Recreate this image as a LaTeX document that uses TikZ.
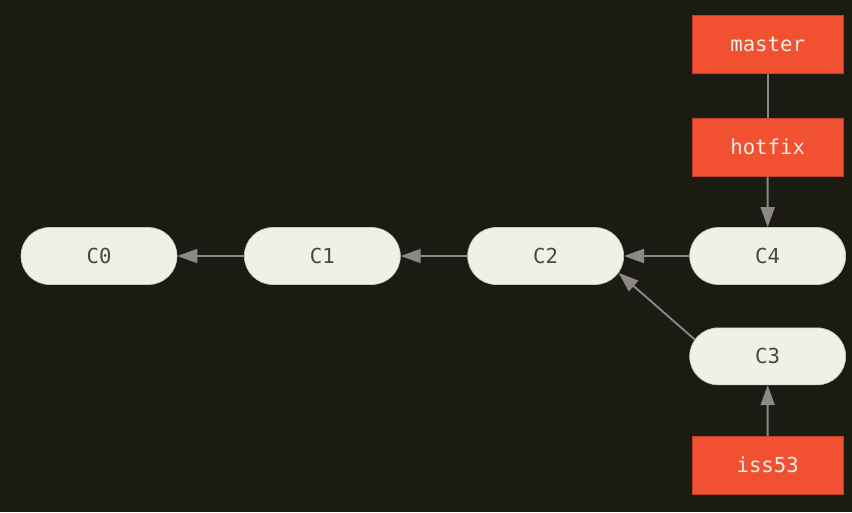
\documentclass[tikz,border=0pt]{standalone}
\usepackage{fontspec}
\setmonofont{DejaVu Sans Mono}
\usetikzlibrary{shapes.misc}
\usetikzlibrary{positioning}
\usetikzlibrary{arrows.meta}
\definecolor{bgdark}{HTML}{1C1B13}
\definecolor{commitfill}{HTML}{F0EFE8}
\definecolor{commitline}{HTML}{C9C7C0}
\definecolor{committext}{HTML}{4A4741}
\definecolor{branchfill}{HTML}{F15130}
\definecolor{branchtext}{HTML}{F0EFE8}
\definecolor{pointer}{HTML}{8C8984}
\tikzstyle{commit} = [rounded rectangle,fill=commitfill,draw=commitline,line width=0.5pt,
minimum width=117pt, minimum height=42.75pt, inner sep=0pt, text=committext,
font=\ttfamily\fontsize{15.5}{18}\selectfont, node distance=50pt]
\tikzstyle{branch} = [rectangle,fill=branchfill,draw=branchfill!80!black,line width=0.5pt,
minimum width=113pt, minimum height=43.5pt, inner sep=0pt, text=branchtext,
font=\ttfamily\fontsize{15.5}{18}\selectfont]
\tikzstyle{link} = [draw=pointer, line width=1.4pt]
\tikzset{>={Triangle[length=15pt,width=10.5pt]}}
\newcommand{\pointto}[3][]{ %
  % Arrow from node #2 to the node #3 it refers to.
  \draw[link,->,#1] (#2) -- (#3) ;%
}

\begin{document}
\begin{tikzpicture}
  \path[use as bounding box, fill=bgdark] (0,0) rectangle (639pt,-384pt);

  \node[commit] (c0) at (74.25pt,-192pt) {C0};
  \node[commit, right=of c0] (c1) {C1};
  \node[commit, right=of c1] (c2) {C2};
  \node[commit, right=49pt of c2] (c4) {C4};
  \node[commit, below=32pt of c4] (c3) {C3};

  \node[branch, above=38pt of c4] (hotfix) {hotfix};
  \node[branch, above=33pt of hotfix] (master) {master};
  \node[branch, below=38pt of c3] (iss53) {iss53};

  \pointto {c1} {c0};
  \pointto {c2} {c1};
  \pointto {c4} {c2};
  \pointto {c3.167} {c2.-13};
  \pointto {hotfix} {c4};
  \pointto {iss53} {c3};
  \draw[link] (master) -- (hotfix);
\end{tikzpicture}
\end{document}
